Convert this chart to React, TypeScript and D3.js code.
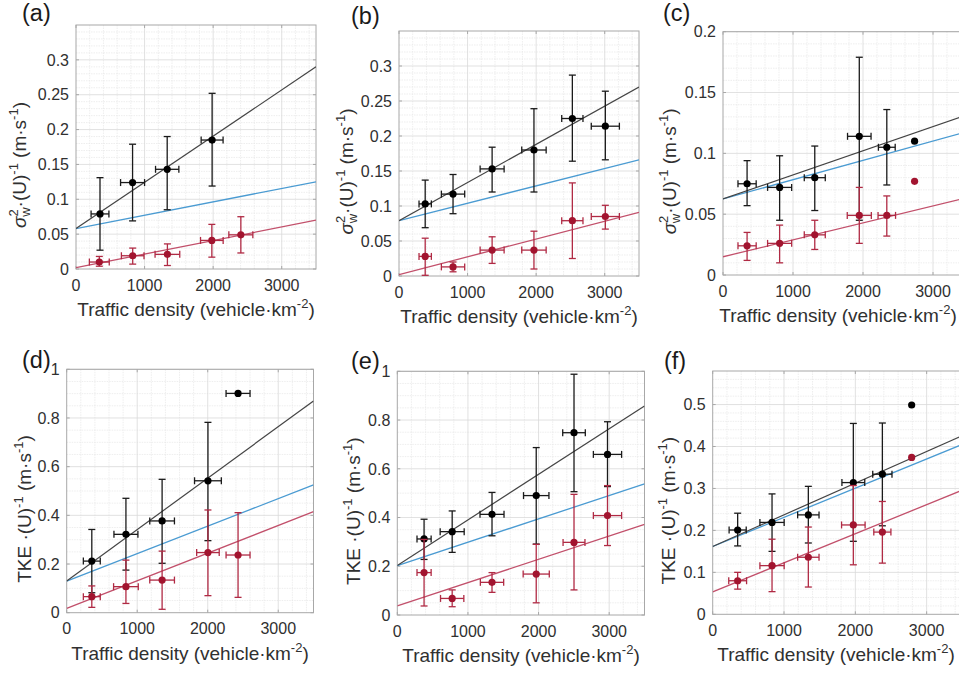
import React, { useEffect, useRef } from "react";
import * as d3 from "d3";

// each point: [traffic density, mean, lower end, upper end, density half-width]
const aBlack = [
  [350, 0.079, 0.027, 0.131, 130],
  [825, 0.124, 0.069, 0.179, 175],
  [1330, 0.143, 0.085, 0.19, 170],
  [1985, 0.185, 0.119, 0.252, 160],
];
const aRed = [
  [340, 0.01, 0.004, 0.018, 145],
  [827, 0.019, 0.007, 0.03, 165],
  [1333, 0.021, 0.005, 0.036, 180],
  [1981, 0.041, 0.017, 0.064, 165],
  [2404, 0.049, 0.023, 0.075, 175],
];
const bBlack = [
  [382, 0.103, 0.069, 0.137, 90],
  [788, 0.117, 0.089, 0.145, 170],
  [1358, 0.153, 0.12, 0.184, 175],
  [1968, 0.18, 0.12, 0.239, 178],
  [2528, 0.225, 0.164, 0.287, 155],
  [3009, 0.214, 0.166, 0.264, 205],
];
const bRed = [
  [382, 0.028, 0.001, 0.054, 90],
  [788, 0.013, 0.006, 0.02, 170],
  [1358, 0.037, 0.018, 0.056, 175],
  [1968, 0.037, 0.01, 0.064, 178],
  [2528, 0.079, 0.025, 0.133, 155],
  [3009, 0.085, 0.067, 0.101, 205],
];
const cBlack = [
  [344, 0.075, 0.057, 0.094, 130],
  [809, 0.072, 0.045, 0.098, 172],
  [1311, 0.08, 0.053, 0.106, 150],
  [1947, 0.114, 0.045, 0.179, 168],
  [2340, 0.105, 0.074, 0.136, 120],
  [2737, 0.11, 0.11, 0.11, 0],
];
const cRed = [
  [344, 0.024, 0.012, 0.035, 130],
  [809, 0.026, 0.01, 0.041, 172],
  [1311, 0.033, 0.021, 0.045, 150],
  [1947, 0.049, 0.026, 0.072, 172],
  [2340, 0.049, 0.032, 0.065, 125],
  [2737, 0.077, 0.077, 0.077, 0],
];
const dBlack = [
  [356, 0.212, 0.082, 0.342, 120],
  [840, 0.322, 0.175, 0.47, 170],
  [1353, 0.377, 0.203, 0.548, 175],
  [2003, 0.542, 0.296, 0.782, 190],
  [2430, 0.901, 0.901, 0.901, 170],
];
const dRed = [
  [356, 0.066, 0.022, 0.11, 120],
  [840, 0.107, 0.038, 0.216, 175],
  [1353, 0.134, 0.014, 0.253, 175],
  [2003, 0.247, 0.07, 0.422, 160],
  [2430, 0.237, 0.063, 0.411, 170],
];
const eBlack = [
  [379, 0.312, 0.228, 0.393, 100],
  [777, 0.342, 0.257, 0.427, 170],
  [1341, 0.413, 0.325, 0.503, 170],
  [1967, 0.49, 0.291, 0.687, 180],
  [2502, 0.748, 0.506, 0.988, 160],
  [2976, 0.659, 0.527, 0.793, 200],
];
const eRed = [
  [379, 0.174, 0.037, 0.31, 100],
  [777, 0.068, 0.034, 0.103, 165],
  [1341, 0.134, 0.093, 0.174, 165],
  [1967, 0.168, 0.05, 0.29, 185],
  [2502, 0.298, 0.103, 0.495, 155],
  [2976, 0.408, 0.285, 0.531, 200],
];
const fBlack = [
  [350, 0.201, 0.163, 0.241, 120],
  [832, 0.219, 0.15, 0.287, 170],
  [1341, 0.237, 0.17, 0.305, 150],
  [1972, 0.314, 0.174, 0.455, 160],
  [2379, 0.334, 0.211, 0.456, 135],
  [2790, 0.499, 0.499, 0.499, 0],
];
const fRed = [
  [350, 0.08, 0.06, 0.1, 125],
  [832, 0.116, 0.054, 0.179, 170],
  [1341, 0.136, 0.065, 0.208, 150],
  [1972, 0.213, 0.118, 0.307, 165],
  [2379, 0.196, 0.122, 0.269, 120],
  [2790, 0.374, 0.374, 0.374, 0],
];

// fitted lines: [value at 0, value at 3500] for black, blue, red
const aFits = [[0.058, 0.29], [0.058, 0.125], [0.002, 0.07]];
const bFits = [[0.079, 0.27], [0.079, 0.166], [0.002, 0.091]];
const cFits = [[0.0625, 0.132], [0.0625, 0.118], [0.015, 0.0637]];
const dFits = [[0.13, 0.87], [0.13, 0.525], [0.018, 0.415]];
const eFits = [[0.203, 0.858], [0.203, 0.538], [0.037, 0.372]];
const fFits = [[0.1616, 0.426], [0.1616, 0.405], [0.0535, 0.296]];

const xTicks = [0, 1000, 2000, 3000];
const sigmaTicks = [0, 0.05, 0.1, 0.15, 0.2, 0.25, 0.3];
const cTicks = [0, 0.05, 0.1, 0.15, 0.2];
const tkeTicks = [0, 0.2, 0.4, 0.6, 0.8, 1];
const fTicks = [0, 0.1, 0.2, 0.3, 0.4, 0.5];
const tags = ["(a)", "(b)", "(c)", "(d)", "(e)", "(f)"];

const panels = [
  { tag: tags[0], box: [76, 25, 316, 269], yMax: 0.35, yTicks: sigmaTicks, yMinor: 0.01, black: aBlack, red: aRed, fits: aFits, kind: "sigma", tagAt: [22, 21], labelX: 26, xLabelAt: 196 },
  { tag: tags[1], box: [399, 31, 639, 276], yMax: 0.35, yTicks: sigmaTicks, yMinor: 0.01, black: bBlack, red: bRed, fits: bFits, kind: "sigma", tagAt: [351, 24], labelX: 353, xLabelAt: 519 },
  { tag: tags[2], box: [723, 31.7, 968, 275], yMax: 0.2, yTicks: cTicks, yMinor: 0.01, black: cBlack, red: cRed, fits: cFits, kind: "sigma", tagAt: [663, 21], labelX: 676, xLabelAt: 838 },
  { tag: tags[3], box: [66.7, 369.3, 313.5, 612.7], yMax: 1, yTicks: tkeTicks, yMinor: 0.05, black: dBlack, red: dRed, fits: dFits, kind: "tke", tagAt: [22, 368], labelX: 31, xLabelAt: 190 },
  { tag: tags[4], box: [397.3, 371.3, 644.5, 615], yMax: 1, yTicks: tkeTicks, yMinor: 0.05, black: eBlack, red: eRed, fits: eFits, kind: "tke", tagAt: [351, 369], labelX: 360, xLabelAt: 521 },
  { tag: tags[5], box: [712.7, 371, 962.3, 614.3], yMax: 0.58, yTicks: fTicks, yMinor: 0.02, black: fBlack, red: fRed, fits: fFits, kind: "tke", tagAt: [664, 369], labelX: 675, xLabelAt: 836 },
];

const BLACK = "#000000";
const RED = "#a2142f";
const FONT = "'Liberation Sans', Arial, sans-serif";
const TEXT = "#303030";

export default function App() {
  const ref = useRef<SVGSVGElement>(null);

  useEffect(() => {
    const svg = d3.select(ref.current);
    svg.selectAll("*").remove();

    panels.forEach((p, i) => {
      const [l, t, r, b] = p.box;
      const x = d3.scaleLinear().domain([0, 3500]).range([l, r]);
      const y = d3.scaleLinear().domain([0, p.yMax]).range([b, t]);
      const g = svg.append("g");

      const clipId = `clip${i}`;
      svg.append("clipPath").attr("id", clipId)
        .append("rect").attr("x", l).attr("y", t).attr("width", r - l).attr("height", b - t);

      // minor grid
      const xMinor = d3.range(200, 3500, 200).filter(v => v % 1000 !== 0);
      const yMinor = d3.range(p.yMinor, p.yMax, p.yMinor)
        .filter(v => !p.yTicks.some(tk => Math.abs(tk - v) < 1e-6));
      g.append("g").selectAll("line").data(xMinor).join("line")
        .attr("x1", d => x(d)).attr("x2", d => x(d)).attr("y1", t).attr("y2", b)
        .attr("stroke", "#e6e6e6").attr("stroke-width", 0.7).attr("stroke-dasharray", "1.5,1");
      g.append("g").selectAll("line").data(yMinor).join("line")
        .attr("x1", l).attr("x2", r).attr("y1", d => y(d)).attr("y2", d => y(d))
        .attr("stroke", "#e6e6e6").attr("stroke-width", 0.7).attr("stroke-dasharray", "1.5,1");

      // major grid
      g.append("g").selectAll("line").data(xTicks.slice(1)).join("line")
        .attr("x1", d => x(d)).attr("x2", d => x(d)).attr("y1", t).attr("y2", b)
        .attr("stroke", "#d9d9d9").attr("stroke-width", 0.8);
      g.append("g").selectAll("line").data(p.yTicks.slice(1)).join("line")
        .attr("x1", l).attr("x2", r).attr("y1", d => y(d)).attr("y2", d => y(d))
        .attr("stroke", "#d9d9d9").attr("stroke-width", 0.8);

      // box and inward ticks
      g.append("rect").attr("x", l).attr("y", t).attr("width", r - l).attr("height", b - t)
        .attr("fill", "none").attr("stroke", "#a8a8a8").attr("stroke-width", 1);
      const tk = g.append("g").attr("stroke", "#a8a8a8").attr("stroke-width", 1);
      xTicks.forEach(v => {
        tk.append("line").attr("x1", x(v)).attr("x2", x(v)).attr("y1", b).attr("y2", b - 3);
        tk.append("line").attr("x1", x(v)).attr("x2", x(v)).attr("y1", t).attr("y2", t + 3);
      });
      p.yTicks.forEach(v => {
        tk.append("line").attr("x1", l).attr("x2", l + 3).attr("y1", y(v)).attr("y2", y(v));
        tk.append("line").attr("x1", r).attr("x2", r - 3).attr("y1", y(v)).attr("y2", y(v));
      });

      // tick labels
      g.append("g").selectAll("text").data(xTicks).join("text")
        .attr("x", d => x(d)).attr("y", b + 21.5)
        .attr("text-anchor", "middle").attr("font-family", FONT).attr("font-size", 16)
        .attr("fill", TEXT).text(d => String(d));
      g.append("g").selectAll("text").data(p.yTicks).join("text")
        .attr("x", l - 7).attr("y", d => y(d)).attr("dy", "0.36em")
        .attr("text-anchor", "end").attr("font-family", FONT).attr("font-size", 16)
        .attr("fill", TEXT).text(d => String(+d.toFixed(2)));

      // fitted lines
      const fitColors = ["#444444", "#4a9bd2", "#c2506b"];
      const fg = g.append("g").attr("clip-path", `url(#${clipId})`);
      [1, 0, 2].forEach(k => {
        const [v0, v1] = p.fits[k];
        fg.append("line")
          .attr("x1", x(0)).attr("y1", y(v0)).attr("x2", x(3500)).attr("y2", y(v1))
          .attr("stroke", fitColors[k]).attr("stroke-width", k === 0 ? 1.2 : 1.3);
      });

      // error bars and markers
      const drawSeries = (pts: number[][], col: string, barCol: string) => {
        const sg = g.append("g");
        pts.forEach(([dx, m, lo, hi, xe]) => {
          const cx = x(dx), cy = y(m);
          if (hi > lo) {
            sg.append("line").attr("x1", cx).attr("x2", cx).attr("y1", y(lo)).attr("y2", y(hi))
              .attr("stroke", barCol).attr("stroke-width", 1.3);
            [lo, hi].forEach(v => sg.append("line")
              .attr("x1", cx - 3.5).attr("x2", cx + 3.5).attr("y1", y(v)).attr("y2", y(v))
              .attr("stroke", barCol).attr("stroke-width", 1.3));
          }
          if (xe > 0) {
            sg.append("line").attr("x1", x(dx - xe)).attr("x2", x(dx + xe)).attr("y1", cy).attr("y2", cy)
              .attr("stroke", barCol).attr("stroke-width", 1.3);
            [dx - xe, dx + xe].forEach(v => sg.append("line")
              .attr("x1", x(v)).attr("x2", x(v)).attr("y1", cy - 3.5).attr("y2", cy + 3.5)
              .attr("stroke", barCol).attr("stroke-width", 1.3));
          }
          sg.append("circle").attr("cx", cx).attr("cy", cy).attr("r", 3.6).attr("fill", col);
        });
      };
      drawSeries(p.black, BLACK, "#1a1a1a");
      drawSeries(p.red, RED, "#b02a44");

      // x label
      const xl = g.append("text").attr("x", p.xLabelAt).attr("y", b + 47)
        .attr("text-anchor", "middle").attr("font-family", FONT).attr("font-size", 19)
        .attr("fill", TEXT);
      xl.append("tspan").text("Traffic density (vehicle·km");
      xl.append("tspan").attr("font-size", 13).attr("dy", -8).text("-2");
      xl.append("tspan").attr("dy", 8).text(")");

      // y label
      const yl = g.append("text")
        .attr("transform", `translate(${p.labelX},${(t + b) / 2 + 18}) rotate(-90)`)
        .attr("text-anchor", "middle").attr("font-family", FONT).attr("font-size", 19)
        .attr("fill", TEXT);
      if (p.kind === "sigma") {
        yl.append("tspan").attr("font-style", "italic").text("σ");
        yl.append("tspan").attr("font-size", 13).attr("dy", -8).text("2");
        yl.append("tspan").attr("font-size", 13).attr("dx", -7.5).attr("dy", 12).text("w");
        yl.append("tspan").attr("dy", -4).text("·(U)");
      } else {
        yl.append("tspan").text("TKE ·(U)");
      }
      yl.append("tspan").attr("font-size", 13).attr("dy", -8).text("-1");
      yl.append("tspan").attr("dy", 8).text(" (m·s");
      yl.append("tspan").attr("font-size", 13).attr("dy", -8).text("-1");
      yl.append("tspan").attr("dy", 8).text(")");

      // panel tag
      g.append("text").attr("x", p.tagAt[0]).attr("y", p.tagAt[1])
        .attr("font-family", FONT).attr("font-size", 23.5).attr("fill", "#1a1a1a").text(p.tag);
    });
  }, []);

  return (
    <svg
      ref={ref}
      width={959}
      height={673}
      style={{ position: "absolute", left: 0, top: 0, background: "#ffffff" }}
    />
  );
}
